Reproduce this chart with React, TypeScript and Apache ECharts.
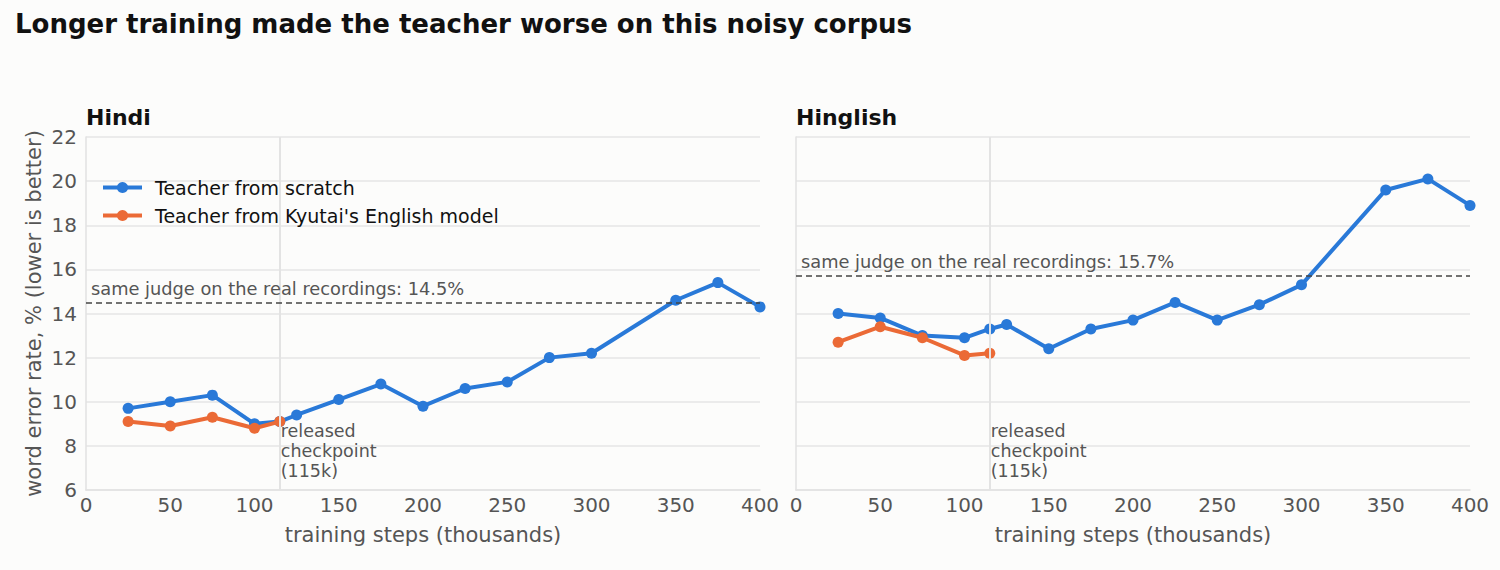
import React, { useEffect, useRef } from "react";
import * as echarts from "echarts";

const steps = [25, 50, 75, 100, 115, 125, 150, 175, 200, 225, 250, 275, 300, 350, 375, 400];
const hindiScratch = [9.7, 10.0, 10.3, 9.0, 9.1, 9.4, 10.1, 10.8, 9.8, 10.6, 10.9, 12.0, 12.2, 14.6, 15.4, 14.3];
const hinglishScratch = [14.0, 13.8, 13.0, 12.9, 13.3, 13.5, 12.4, 13.3, 13.7, 14.5, 13.7, 14.4, 15.3, 19.6, 20.1, 18.9];
const englishSteps = [25, 50, 75, 100, 115];
const hindiEnglish = [9.1, 8.9, 9.3, 8.8, 9.1];
const hinglishEnglish = [12.7, 13.4, 12.9, 12.1, 12.2];
const realRecordings = [14.5, 15.7];
const releasedStep = 115;
const panelTitles = ["Hindi", "Hinglish"];
const seriesNames = ["Teacher from scratch", "Teacher from Kyutai's English model"];

const FONT = "DejaVu Sans";
const BLUE = "#2979d8";
const ORANGE = "#eb6a36";

const pairs = (xs: number[], ys: number[]) => xs.map((x, i) => [x, ys[i]]);

export default function App() {
  const ref = useRef<HTMLDivElement>(null);
  useEffect(() => {
    document.body.style.margin = "0";
    const chart = echarts.init(ref.current!, null, { renderer: "svg" });
    const grids = [
      { left: 86, top: 137, width: 674, height: 353 },
      { left: 796, top: 137, width: 674, height: 353 },
    ];
    const xAxes = [0, 1].map((i) => ({
      type: "value",
      gridIndex: i,
      min: 0,
      max: 400,
      interval: 50,
      axisLine: { show: true, lineStyle: { color: "#e2e2e2", width: 1.5 } },
      axisTick: { show: false },
      splitLine: { show: false },
      axisLabel: { color: "#555", fontSize: 20, fontFamily: FONT, margin: 5 },
      name: "training steps (thousands)",
      nameLocation: "middle",
      nameGap: 34,
      nameTextStyle: { color: "#555", fontSize: 21, fontFamily: FONT },
    }));
    const yAxes = [0, 1].map((i) => ({
      type: "value",
      gridIndex: i,
      min: 6,
      max: 22,
      interval: 2,
      axisLine: { show: true, lineStyle: { color: "#e2e2e2", width: 1.5 } },
      axisTick: { show: false },
      splitLine: { show: true, lineStyle: { color: "#e6e6e6", width: 1.5 } },
      axisLabel: { show: i === 0, color: "#555", fontSize: 20, fontFamily: FONT, margin: 9 },
      name: i === 0 ? "word error rate, % (lower is better)" : "",
      nameLocation: "middle",
      nameGap: 42,
      nameTextStyle: { color: "#555", fontSize: 21, fontFamily: FONT },
    }));

    const scratchData = [hindiScratch, hinglishScratch];
    const englishData = [hindiEnglish, hinglishEnglish];
    const series: any[] = [];
    [0, 1].forEach((i) => {
      series.push({
        type: "line",
        name: "ref" + i,
        xAxisIndex: i,
        yAxisIndex: i,
        data: [],
        z: 1,
        silent: true,
        markLine: {
          symbol: ["none", "none"],
          silent: true,
          animation: false,
          data: [
            {
              xAxis: releasedStep,
              lineStyle: { color: "#e3e3e3", width: 2, type: "solid" },
              label: { show: false },
            },
            {
              yAxis: realRecordings[i],
              lineStyle: { color: "#444", width: 1.5, type: [6, 4] },
              label: {
                show: true,
                position: "insideStartTop",
                formatter: "same judge on the real recordings: " + realRecordings[i].toFixed(1) + "%",
                color: "#555",
                fontSize: 17.8,
                fontFamily: FONT,
                distance: [5, 5],
              },
            },
          ],
        },
        markPoint: {
          symbol: "circle",
          symbolSize: 0,
          silent: true,
          animation: false,
          data: [
            {
              coord: [releasedStep, 7.75],
              label: {
                show: true,
                position: "right",
                distance: 1,
                formatter: "released\ncheckpoint\n(115k)",
                color: "#555",
                fontSize: 17.5,
                lineHeight: 20,
                fontFamily: FONT,
                align: "left",
              },
            },
          ],
        },
      });
      series.push({
        type: "line",
        name: seriesNames[0],
        xAxisIndex: i,
        yAxisIndex: i,
        data: pairs(steps, scratchData[i]),
        z: 3,
        symbol: "circle",
        symbolSize: 11,
        showAllSymbol: true,
        lineStyle: { color: BLUE, width: 4 },
        itemStyle: { color: BLUE },
      });
      series.push({
        type: "line",
        name: seriesNames[1],
        xAxisIndex: i,
        yAxisIndex: i,
        data: pairs(englishSteps, englishData[i]),
        z: 4,
        symbol: "circle",
        symbolSize: 11,
        showAllSymbol: true,
        lineStyle: { color: ORANGE, width: 4 },
        itemStyle: { color: ORANGE },
      });
    });

    chart.setOption({
      animation: false,
      backgroundColor: "#fcfcfb",
      textStyle: { fontFamily: FONT },
      title: [
        {
          text: "Longer training made the teacher worse on this noisy corpus",
          left: 15,
          top: 11,
          padding: 0,
          textStyle: { fontSize: 26, fontWeight: "bold", color: "#111", fontFamily: FONT },
        },
        {
          text: panelTitles[0],
          left: 86,
          top: 106,
          padding: 0,
          textStyle: { fontSize: 22, fontWeight: "bold", color: "#111", fontFamily: FONT },
        },
        {
          text: panelTitles[1],
          left: 796,
          top: 106,
          padding: 0,
          textStyle: { fontSize: 22, fontWeight: "bold", color: "#111", fontFamily: FONT },
        },
      ],
      legend: {
        data: seriesNames,
        orient: "vertical",
        left: 101,
        top: 178,
        padding: 0,
        itemWidth: 39,
        itemHeight: 14,
        itemGap: 9,
        lineStyle: { width: 4 },
        textStyle: { fontSize: 19, color: "#111", fontFamily: FONT, padding: [0, 0, 0, 8] },
      },
      grid: grids,
      xAxis: xAxes,
      yAxis: yAxes,
      series,
    });
    return () => chart.dispose();
  }, []);
  return <div ref={ref} style={{ width: 1500, height: 570 }} />;
}
